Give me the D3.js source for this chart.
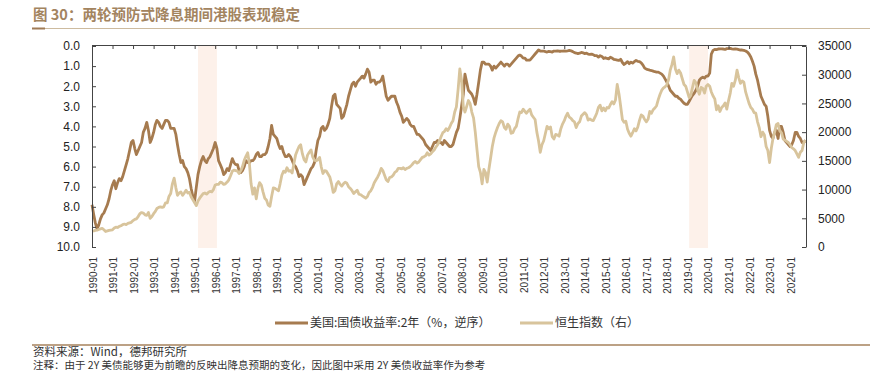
<!DOCTYPE html>
<html>
<head>
<meta charset="utf-8">
<script src="https://cdn.jsdelivr.net/npm/d3@7"></script>
<style>
  body { margin: 0; background: #fff; }
  svg text { font-family: "Liberation Sans", Arial, sans-serif; fill: #222; }
  svg text.cjk { font-family: "Noto Sans CJK SC", sans-serif; }
</style>
</head>
<body>
<svg id="chart" width="870" height="371"></svg>
<script>
// Layout of the picture
const WIDTH = 870;
const HEIGHT = 371;
const PLOT = { left: 92, right: 806, top: 45, bottom: 247 };
const BROWN = "#a67b4f";
const TAN = "#d8c49c";

// Data: one value per month, starting 1990-01
const startMonth = "1990-01";
const endDate = "2024-10-10";

// US 2Y treasury yield (%), drawn on a reversed left axis
const us2y = [
  7.9, 8.4, 8.8, 9.1, 8.9, 8.6, 8.4, 8.3, 8.1, 7.9, 7.6, 7.2,        // 1990
  6.9, 6.7, 7.1, 6.8, 6.6, 6.7, 6.5, 6.2, 5.9, 5.6, 5.2, 4.8,        // 1991
  4.7, 5.1, 5.4, 5.2, 5.0, 4.8, 4.3, 4.1, 3.8, 4.2, 4.8, 4.6,        // 1992
  4.3, 3.9, 3.7, 3.8, 4.0, 4.1, 3.9, 3.7, 3.7, 3.8, 4.1, 4.1,        // 1993
  4.1, 4.4, 4.9, 5.4, 5.8, 5.7, 6.0, 6.1, 6.3, 6.6, 7.1, 7.5,        // 1994
  7.7, 7.0, 6.4, 6.0, 5.7, 5.5, 5.7, 5.8, 5.6, 5.5, 5.3, 5.1,        // 1995
  4.8, 5.1, 5.7, 5.9, 6.1, 6.4, 6.3, 6.1, 6.2, 5.9, 5.6, 5.8,        // 1996
  5.9, 5.9, 6.2, 6.3, 6.2, 6.0, 5.7, 5.8, 5.8, 5.7, 5.7, 5.6,        // 1997
  5.4, 5.3, 5.5, 5.5, 5.4, 5.4, 5.3, 5.0, 4.6, 3.95, 4.4, 4.5,       // 1998
  4.6, 4.9, 5.1, 5.0, 5.3, 5.5, 5.5, 5.4, 5.5, 5.7, 5.9, 6.0,        // 1999
  6.2, 6.5, 6.4, 6.5, 6.9, 6.7, 6.5, 6.3, 6.1, 6.0, 5.8, 5.2,        // 2000
  4.7, 4.5, 4.1, 4.0, 4.2, 4.1, 3.9, 3.6, 3.0, 2.5, 2.4, 2.9,        // 2001
  3.0, 3.1, 3.6, 3.5, 3.2, 2.9, 2.5, 2.2, 1.9, 1.8, 2.0, 1.8,        // 2002
  1.7, 1.6, 1.5, 1.6, 1.4, 1.15, 1.3, 1.8, 1.7, 1.7, 1.9, 1.8,       // 2003
  1.8, 1.7, 1.5, 2.0, 2.5, 2.7, 2.6, 2.5, 2.5, 2.5, 2.8, 3.0,        // 2004
  3.3, 3.5, 3.8, 3.7, 3.6, 3.7, 3.9, 4.0, 4.0, 4.2, 4.4, 4.4,        // 2005
  4.5, 4.6, 4.7, 4.9, 5.0, 5.1, 5.2, 5.0, 4.8, 4.8, 4.7, 4.8,        // 2006
  4.8, 4.9, 4.7, 4.8, 4.9, 5.0, 5.0, 4.9, 4.6, 4.3, 4.1, 3.6,        // 2007
  3.0, 2.4, 1.4, 1.8, 2.2, 2.3, 2.4, 2.6, 2.9, 2.4, 1.8, 1.2,        // 2008
  0.8, 0.8, 0.9, 0.9, 0.9, 1.0, 1.2, 1.0, 1.1, 1.0, 0.9, 0.8,        // 2009
  0.9, 1.0, 0.9, 0.9, 1.0, 0.9, 0.8, 0.7, 0.6, 0.5, 0.45, 0.5,       // 2010
  0.6, 0.6, 0.7, 0.7, 0.7, 0.6, 0.5, 0.4, 0.3, 0.2, 0.25, 0.25,      // 2011
  0.25, 0.28, 0.3, 0.27, 0.28, 0.3, 0.25, 0.25, 0.24, 0.26, 0.26, 0.25, // 2012
  0.24, 0.25, 0.24, 0.22, 0.24, 0.28, 0.33, 0.35, 0.38, 0.36, 0.32, 0.34, // 2013
  0.38, 0.36, 0.40, 0.42, 0.40, 0.44, 0.48, 0.48, 0.55, 0.48, 0.52, 0.62, // 2014
  0.58, 0.62, 0.64, 0.56, 0.60, 0.66, 0.68, 0.70, 0.72, 0.66, 0.82, 0.92, // 2015
  0.85, 0.78, 0.88, 0.80, 0.85, 0.78, 0.72, 0.76, 0.78, 0.84, 0.95, 1.10, // 2016
  1.15, 1.18, 1.20, 1.22, 1.25, 1.28, 1.30, 1.30, 1.35, 1.40, 1.50, 1.65, // 2017
  1.80, 2.00, 2.20, 2.30, 2.40, 2.50, 2.50, 2.60, 2.65, 2.75, 2.85, 2.90, // 2018
  2.90, 2.75, 2.60, 2.45, 2.35, 2.20, 2.00, 1.70, 1.60, 1.55, 1.60, 1.50, // 2019
  1.50, 1.35, 0.40, 0.22, 0.17, 0.18, 0.15, 0.14, 0.14, 0.15, 0.17, 0.13, // 2020
  0.13, 0.12, 0.14, 0.16, 0.15, 0.16, 0.18, 0.20, 0.20, 0.22, 0.25, 0.30, // 2021
  0.40, 0.55, 0.75, 1.00, 1.40, 1.70, 2.10, 2.50, 2.70, 2.90, 3.00, 3.50, // 2022
  4.20, 4.50, 4.60, 4.30, 4.20, 4.60, 4.00, 4.00, 4.30, 4.70, 4.80, 4.90, // 2023
  5.00, 4.90, 4.70, 4.30, 4.30, 4.50, 4.60, 4.80, 4.80, 4.70              // 2024
];

// Hang Seng index, right axis
const hsi = [
  2750, 2800, 2900, 2950, 3050, 3150, 3250, 3000, 2700, 2800, 2900, 2950,          // 1990
  3000, 3300, 3450, 3400, 3600, 3700, 3900, 4000, 3900, 4100, 4200, 4300,          // 1991
  4600, 4800, 4900, 5300, 5800, 6000, 5900, 5600, 5500, 6000, 5000, 5300,          // 1992
  5800, 6200, 6700, 6900, 7000, 6900, 7000, 7700, 7700, 8800, 9300, 11000,         // 1993
  12000, 10300, 9000, 9400, 9600, 9000, 9400, 9900, 9400, 9500, 8700, 8200,        // 1994
  7700, 7200, 8000, 8500, 8900, 9300, 9400, 9200, 9500, 9700, 9600, 10000,         // 1995
  10800, 10900, 10900, 11300, 11200, 10900, 11000, 11300, 11700, 12400, 13200, 13400, // 1996
  13300, 13200, 12800, 13300, 14000, 15100, 15800, 16400, 14500, 11000, 9200, 10300,  // 1997
  8400, 10300, 11200, 10800, 9600, 8500, 8200, 7300, 7100, 8800, 10300, 10200,     // 1998
  10000, 9800, 11000, 12500, 13200, 13000, 13800, 13200, 13300, 12900, 14500, 16000, // 1999
  16800, 17500, 17800, 16200, 15200, 14800, 16000, 16500, 16900, 15700, 15100, 15000, // 2000
  15200, 15600, 14000, 12800, 13300, 13200, 12700, 12200, 11000, 9500, 9800, 11000,   // 2001
  11400, 10900, 10600, 11000, 11300, 11100, 10500, 10200, 9800, 9300, 9600, 9900,    // 2002
  9200, 9100, 8900, 8700, 8500, 8800, 9500, 9800, 10400, 11200, 11700, 12200,        // 2003
  12800, 13700, 13300, 12500, 11700, 11400, 12100, 12200, 12500, 13000, 13200, 13700, // 2004
  13700, 13600, 13800, 13500, 13700, 13800, 14000, 14300, 14700, 14900, 14600, 14800, // 2005
  15200, 15600, 15700, 15900, 16400, 16000, 16200, 16600, 16900, 17400, 17800, 18400, // 2006
  19200, 19900, 20100, 20600, 20300, 20800, 21500, 22000, 23500, 24400, 27500, 31000, // 2007
  29000, 24500, 23500, 24500, 25500, 25000, 23500, 22500, 20000, 17000, 14000, 13000, // 2008
  11000, 13500, 13000, 11300, 13500, 15500, 17500, 19000, 20000, 20800, 21500, 22000, // 2009
  21800, 20800, 20500, 21400, 21000, 19800, 19900, 20600, 21000, 22300, 23500, 23400, // 2010
  24000, 23600, 23300, 23700, 24000, 23000, 22600, 22200, 20000, 18500, 16500, 17800, // 2011
  18500, 19800, 21000, 20600, 20900, 19200, 18800, 19600, 19500, 19300, 20600, 21400, // 2012
  22000, 22800, 23300, 22600, 22400, 22000, 21800, 20800, 21500, 21800, 22800, 23100, // 2013
  23400, 23000, 22100, 22300, 22100, 22000, 22600, 23300, 24300, 24700, 23700, 24200, // 2014
  23700, 24300, 24200, 24800, 25300, 24900, 25600, 28300, 26700, 24500, 22200, 21700, // 2015
  21900, 20500, 19800, 19300, 19900, 20600, 20200, 20900, 22100, 23000, 22800, 22200, // 2016
  21800, 22300, 23600, 23300, 23900, 24200, 24600, 25700, 26600, 27300, 27700, 27900, // 2017
  28300, 29200, 30800, 31800, 33100, 31000, 30200, 30800, 30300, 29300, 28300, 28000, // 2018
  27000, 26000, 26400, 27800, 29000, 28600, 27400, 26600, 27800, 27600, 26800, 28000, // 2019
  28300, 28000, 27000, 26300, 25800, 23900, 24600, 23600, 24300, 24600, 25100, 24000, // 2020
  25500, 26800, 28500, 28000, 29000, 30800, 29500, 28500, 28900, 28700, 27000, 26000, // 2021
  25000, 24300, 24000, 23400, 23300, 21800, 20800, 19200, 20000, 19500, 17500, 16800, // 2022
  14700, 17200, 18800, 20000, 21300, 21500, 20200, 19900, 18800, 18600, 18400, 18200, // 2023
  17800, 17300, 17100, 16800, 16200, 15600, 16500, 16800, 18200, 18600                // 2024
];

const yearTicks = ["1990-01","1991-01","1992-01","1993-01","1994-01","1995-01","1996-01",
  "1997-01","1998-01","1999-01","2000-01","2001-01","2002-01","2003-01","2004-01","2005-01",
  "2006-01","2007-01","2008-01","2009-01","2010-01","2011-01","2012-01","2013-01","2014-01",
  "2015-01","2016-01","2017-01","2018-01","2019-01","2020-01","2021-01","2022-01","2023-01",
  "2024-01"];
const leftTicks = [0, 1, 2, 3, 4, 5, 6, 7, 8, 9, 10];
const rightTicks = [0, 5000, 10000, 15000, 20000, 25000, 30000, 35000];
// shaded rate-cut periods
const bands = [["1995-03", "1996-02"], ["2019-02", "2020-01"]];

const titleText = "图 30：两轮预防式降息期间港股表现稳定";
const legendItems = [
  { label: "美国:国债收益率:2年（%，逆序）", color: BROWN },
  { label: "恒生指数（右）", color: TAN }
];
const sourceText = "资料来源：Wind，德邦研究所";
const noteText = "注释：由于 2Y 美债能够更为前瞻的反映出降息预期的变化，因此图中采用 2Y 美债收益率作为参考";

const parseMonth = d3.timeParse("%Y-%m");
const start = parseMonth(startMonth);

let svg = d3.select("#chart");

// Scales
let xScale = d3.scaleTime()
  .domain([start, d3.timeParse("%Y-%m-%d")(endDate)])
  .range([PLOT.left, PLOT.right]);
let yLeft = d3.scaleLinear().domain([0, 10]).range([PLOT.top + 1, PLOT.bottom]);
let yRight = d3.scaleLinear().domain([0, 35000]).range([PLOT.bottom, PLOT.top + 1]);

// Title and the line under it
svg.append("text")
  .attr("class", "cjk")
  .attr("x", 33).attr("y", 20)
  .style("font-size", "14.5px").style("font-weight", "bold")
  .style("fill", "#a3845f")
  .text(titleText);
svg.append("line").attr("x1", 32).attr("x2", WIDTH).attr("y1", 28.5).attr("y2", 28.5)
  .attr("stroke", "#cdbb9f").attr("stroke-width", 1);
svg.append("line").attr("x1", 32).attr("x2", 45).attr("y1", 28.5).attr("y2", 28.5)
  .attr("stroke", "#a07b55").attr("stroke-width", 2);

// Shaded bands
svg.append("g").selectAll("rect")
  .data(bands)
  .join("rect")
  .attr("x", d => xScale(parseMonth(d[0])))
  .attr("width", d => xScale(parseMonth(d[1])) - xScale(parseMonth(d[0])))
  .attr("y", PLOT.top)
  .attr("height", PLOT.bottom - PLOT.top + 1)
  .attr("fill", "#fdf1ea");

// Lines
let yieldPoints = us2y.map((v, i) => ({ date: d3.timeMonth.offset(start, i), v }));
let hsiPoints = hsi.map((v, i) => ({ date: d3.timeMonth.offset(start, i), v }));

svg.append("path")
  .datum(yieldPoints)
  .attr("fill", "none")
  .attr("stroke", BROWN)
  .attr("stroke-width", 2.8)
  .attr("stroke-linejoin", "round")
  .attr("d", d3.line().x(d => xScale(d.date)).y(d => yLeft(d.v)));

svg.append("path")
  .datum(hsiPoints)
  .attr("fill", "none")
  .attr("stroke", TAN)
  .attr("stroke-width", 2.8)
  .attr("stroke-linejoin", "round")
  .attr("d", d3.line().x(d => xScale(d.date)).y(d => yRight(d.v)));

// Axes (ticks point inward)
let leftAxis = d3.axisLeft(yLeft).tickValues(leftTicks).tickFormat(d3.format(".1f"))
  .tickSizeInner(-4).tickSizeOuter(0).tickPadding(12);
let rightAxis = d3.axisRight(yRight).tickValues(rightTicks).tickFormat(d3.format("d"))
  .tickSizeInner(-4).tickSizeOuter(0).tickPadding(12);
let topAxis = d3.axisTop(xScale).tickValues(yearTicks.map(parseMonth)).tickFormat("")
  .tickSizeInner(-4).tickSizeOuter(0);

svg.append("g").attr("transform", `translate(${PLOT.left}, 0)`).call(leftAxis);
svg.append("g").attr("transform", `translate(${PLOT.right}, 0)`).call(rightAxis);
svg.append("g").attr("transform", `translate(0, ${PLOT.top})`).call(topAxis);

svg.selectAll(".domain, .tick line").attr("stroke", "#444");
svg.selectAll(".tick text").style("font-size", "12px").style("fill", "#222");

// Rotated date labels under the plot
svg.append("g").selectAll("text")
  .data(yearTicks)
  .join("text")
  .attr("transform", d => `translate(${xScale(parseMonth(d)) + 1}, 257) rotate(-90)`)
  .attr("text-anchor", "end")
  .attr("dy", "0.35em")
  .style("font-size", "10px")
  .style("fill", "#333")
  .text(d => d);

// Legend
let legend = svg.append("g");
let legendX = [275, 520];
legendItems.forEach((item, i) => {
  legend.append("line")
    .attr("x1", legendX[i]).attr("x2", legendX[i] + 33)
    .attr("y1", 323).attr("y2", 323)
    .attr("stroke", item.color).attr("stroke-width", 3);
  legend.append("text")
    .attr("class", "cjk")
    .attr("x", legendX[i] + 35).attr("y", 323)
    .attr("dy", "0.35em")
    .style("font-size", "12px").style("fill", "#333")
    .text(item.label);
});

// Footer
svg.append("line").attr("x1", 32).attr("x2", WIDTH).attr("y1", 345).attr("y2", 345)
  .attr("stroke", "#a6825c").attr("stroke-width", 1.5);
svg.append("text").attr("class", "cjk")
  .attr("x", 33).attr("y", 356)
  .style("font-size", "11.5px").style("fill", "#333")
  .text(sourceText);
svg.append("text").attr("class", "cjk")
  .attr("x", 33).attr("y", 368.5)
  .style("font-size", "10.5px").style("fill", "#333")
  .text(noteText);
</script>
</body>
</html>
